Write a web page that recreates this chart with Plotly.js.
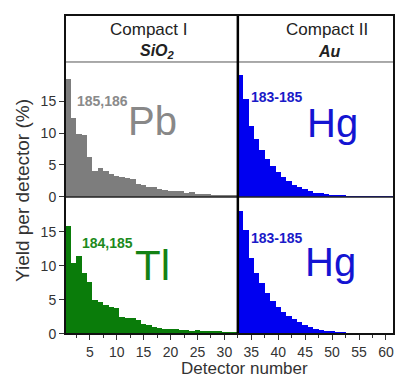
<!DOCTYPE html>
<html>
<head>
<meta charset="utf-8">
<script src="https://cdn.plot.ly/plotly-3.0.1.min.js"></script>
<style>
html,body{margin:0;padding:0;background:#fff;}
#chart{width:396px;height:380px;}
</style>
</head>
<body>
<div id="chart"></div>
<script>
// Detector numbers
const detLeft = [1,2,3,4,5,6,7,8,9,10,11,12,13,14,15,16,17,18,19,20,21,22,23,24,25,26,27,28,29,30,31,32];
const detRight = [33,34,35,36,37,38,39,40,41,42,43,44,45,46,47,48,49,50,51,52,53,54,55,56,57,58,59,60,61];

// Compact I (SiO2), Pb 185,186 — top-left
const pbYield = [18.4,12.3,9.9,9.7,6.3,4.0,4.5,4.0,3.6,3.3,3.1,2.9,2.8,2.1,1.8,1.6,1.5,1.2,1.1,0.9,0.9,1.0,0.7,0.8,0.5,0.45,0.4,0.35,0.3,0.3,0.25,0.2];
// Compact I (SiO2), Tl 184,185 — bottom-left
const tlYield = [15.9,10.4,11.4,9.0,7.7,5.0,4.7,4.2,4.0,3.8,2.5,2.4,2.3,2.1,1.4,1.3,1.1,0.9,0.8,0.7,0.7,0.6,0.6,0.5,0.55,0.5,0.45,0.4,0.4,0.35,0.3,0.3];
// Compact II (Au), Hg 183-185 — top-right
const hgTopYield = [19.1,15.3,11.1,9.0,7.3,5.9,4.8,3.9,3.1,2.5,1.9,1.5,1.2,0.9,0.7,0.55,0.4,0.3,0.25,0.2,0.15,0.12,0.1,0.08,0.06,0.05,0.04,0.03,0.03];
// Compact II (Au), Hg 183-185 — bottom-right
const hgBotYield = [18.0,15.3,11.1,8.9,7.5,6.0,4.9,4.0,3.3,2.7,2.2,1.7,1.3,1.0,0.8,0.6,0.5,0.4,0.3,0.25,0.2,0.15,0.12,0.1,0.08,0.06,0.05,0.04,0.03];

const xTicks = [5,10,15,20,25,30,35,40,45,50,55,60];
const xMinorTicks = [2.5,7.5,12.5,17.5,22.5,27.5,32.5,37.5,42.5,47.5,52.5,57.5];
const yTicks = [0,5,10,15];

const gray = '#7d7d7d', green = '#0a7c0a', blue = '#0000f0';
const FONT = 'Liberation Sans, Arial, sans-serif';

function bars(x, y, color, yaxis){
  return {type:'bar', x:x, y:y, width:1, xaxis:'x', yaxis:yaxis,
    marker:{color:color, line:{width:0}}, hoverinfo:'skip'};
}

const data = [
  bars(detLeft, pbYield, gray, 'y2'),
  bars(detRight, hgTopYield, blue, 'y2'),
  bars(detLeft, tlYield, green, 'y'),
  bars(detRight, hgBotYield, blue, 'y')
];

const splitY = 0.4295, headY = 0.8527;

const layout = {
  width:396, height:380,
  margin:{l:65, r:2, t:15, b:46, pad:0},
  paper_bgcolor:'#fff', plot_bgcolor:'#fff',
  showlegend:false, bargap:0, bargroupgap:0, barmode:'overlay',
  hovermode:false,
  font:{family:FONT, color:'#333', size:14},
  xaxis:{range:[0.4,61.5], anchor:'y', tickvals:xTicks, ticks:'outside', ticklen:5, tickwidth:1,
    tickcolor:'#333', showgrid:false, zeroline:false, showline:false,
    tickfont:{size:14, color:'#333'},
    minor:{tickvals:xMinorTicks, ticks:'outside', ticklen:3, tickcolor:'#333', showgrid:false}},
  yaxis:{domain:[0,splitY], range:[0,20.1], tickvals:yTicks, ticks:'outside', ticklen:5,
    tickcolor:'#333', showgrid:false, zeroline:false, showline:false, tickfont:{size:14,color:'#333'}},
  yaxis2:{domain:[splitY,headY], range:[0,21.1], anchor:'x', tickvals:yTicks, ticks:'outside', ticklen:5,
    tickcolor:'#333', showgrid:false, zeroline:false, showline:false, tickfont:{size:14,color:'#333'}},
  shapes:[
    {type:'line', xref:'paper', yref:'paper', x0:0, x1:1, y0:headY, y1:headY, line:{color:'#555', width:1}, layer:'above'},
    {type:'line', xref:'paper', yref:'paper', x0:0, x1:1, y0:splitY, y1:splitY, line:{color:'#222', width:1.5}, layer:'above'},
    {type:'line', xref:'x', yref:'paper', x0:32.5, x1:32.5, y0:0, y1:1, line:{color:'#000', width:2.5}, layer:'above'},
    {type:'rect', xref:'paper', yref:'paper', x0:0, x1:1, y0:0, y1:1, line:{color:'#111', width:2}, layer:'above'}
  ],
  annotations:[
    {text:'Compact I', xref:'paper', yref:'paper', x:0.2553, y:0.953, showarrow:false, xanchor:'center', yanchor:'middle', font:{size:17, color:'#222'}},
    {text:'<b><i>SiO<sub>2</sub></i></b>', xref:'paper', yref:'paper', x:0.28, y:0.886, showarrow:false, xanchor:'center', yanchor:'middle', font:{size:16, color:'#222'}},
    {text:'Compact II', xref:'paper', yref:'paper', x:0.796, y:0.953, showarrow:false, xanchor:'center', yanchor:'middle', font:{size:17, color:'#222'}},
    {text:'<b><i>Au</i></b>', xref:'paper', yref:'paper', x:0.805, y:0.886, showarrow:false, xanchor:'center', yanchor:'middle', font:{size:16, color:'#222'}},

    {text:'<b>185,186</b>', xref:'x', yref:'y2', x:2.3, y:15.0, showarrow:false, xanchor:'left', yanchor:'middle', font:{size:14, color:'#8a8a8a'}},
    {text:'Pb', xref:'x', yref:'y2', x:11.8, y:11.8, showarrow:false, xanchor:'left', yanchor:'middle', font:{size:40, color:'#888'}},
    {text:'<b>183-185</b>', xref:'x', yref:'y2', x:34.6, y:15.6, showarrow:false, xanchor:'left', yanchor:'middle', font:{size:14, color:'#1a1ac8'}},
    {text:'Hg', xref:'x', yref:'y2', x:44.9, y:11.6, showarrow:false, xanchor:'left', yanchor:'middle', font:{size:40, color:'#1414d2'}},

    {text:'<b>184,185</b>', xref:'x', yref:'y', x:3.1, y:13.4, showarrow:false, xanchor:'left', yanchor:'middle', font:{size:14, color:'#1c8a1c'}},
    {text:'Tl', xref:'x', yref:'y', x:13.1, y:10.1, showarrow:false, xanchor:'left', yanchor:'middle', font:{size:42, color:'#148214'}},
    {text:'<b>183-185</b>', xref:'x', yref:'y', x:34.5, y:14.1, showarrow:false, xanchor:'left', yanchor:'middle', font:{size:14, color:'#1a1ac8'}},
    {text:'Hg', xref:'x', yref:'y', x:44.6, y:10.6, showarrow:false, xanchor:'left', yanchor:'middle', font:{size:40, color:'#1414d2'}},

    {text:'Yield per detector (%)', xref:'paper', yref:'paper', x:-0.131, y:0.451, textangle:-90, showarrow:false, xanchor:'center', yanchor:'middle', font:{size:19, color:'#333'}},
    {text:'Detector number', xref:'paper', yref:'paper', x:0.547, y:-0.109, showarrow:false, xanchor:'center', yanchor:'middle', font:{size:17, color:'#333'}}
  ]
};

Plotly.newPlot('chart', data, layout, {displayModeBar:false, responsive:false});
</script>
</body>
</html>
